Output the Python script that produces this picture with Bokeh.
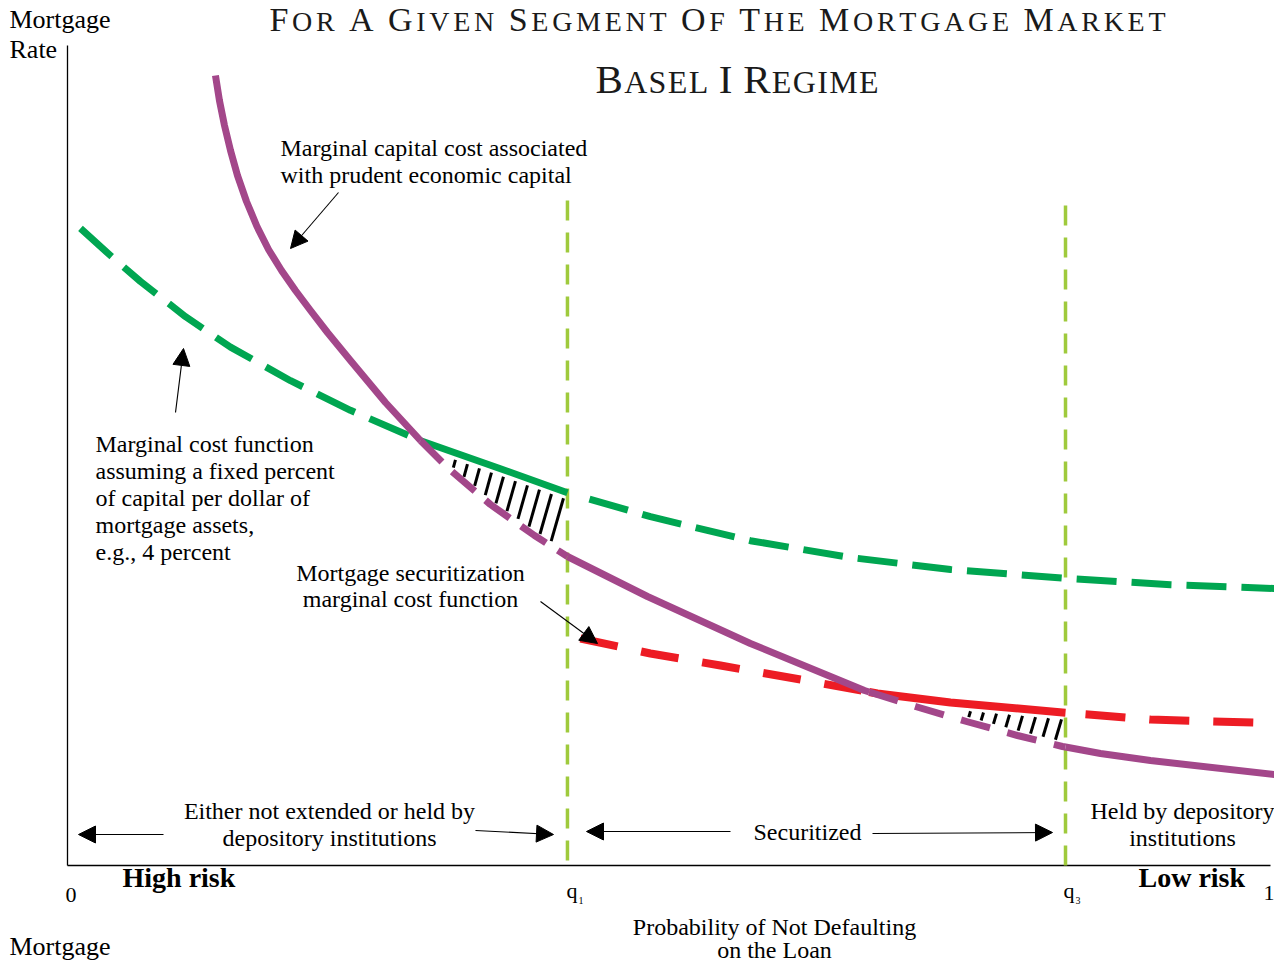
import numpy as np
from bokeh.plotting import figure
from bokeh.models import ColumnDataSource, Range1d, Arrow, NormalHead
from bokeh.core.properties import value
from bokeh.embed import file_html
from bokeh.resources import INLINE

# ---------------- data (probability of not defaulting, mortgage rate) ----------------
q1 = 0.4156
q3 = 0.8296

fixed_cap_x = [0.0108, 0.0357, 0.0607, 0.0981, 0.1355, 0.1854, 0.2352, 0.2934, 0.3599,
               0.4156, 0.4846, 0.5677, 0.6509, 0.7340, 0.8296, 0.9169, 1.0083]
fixed_cap_y = [0.7963, 0.7625, 0.730, 0.686, 0.648, 0.606, 0.569, 0.531, 0.496,
               0.466, 0.436, 0.406, 0.385, 0.370, 0.359, 0.351, 0.346]

prudent_x = [0.1230, 0.1263, 0.1305, 0.1355, 0.1413, 0.1488, 0.1575, 0.1671, 0.1779,
             0.1895, 0.2020, 0.2161, 0.2352, 0.2643, 0.2934, 0.3167, 0.3516, 0.3882,
             0.4156, 0.4821, 0.5677, 0.6625, 0.7049, 0.7473, 0.7897, 0.8271, 0.8587,
             0.9002, 1.0100]
prudent_y = [0.9875, 0.95625, 0.925, 0.89375, 0.8625, 0.83, 0.79875, 0.77, 0.74375,
             0.71875, 0.69375, 0.66625, 0.63125, 0.57875, 0.53125, 0.49625, 0.45125,
             0.4125, 0.38625, 0.33625, 0.2775, 0.21875, 0.19875, 0.18, 0.1625, 0.14875,
             0.14, 0.13125, 0.1125]

securit_x = [0.4264, 0.4846, 0.5428, 0.6093, 0.6733, 0.7340, 0.8271, 0.9002, 1.0100]
securit_y = [0.28375, 0.265, 0.25, 0.2325, 0.215, 0.20375, 0.19125, 0.1825, 0.1775]

tick_labels = ["0", "1"]

# ---------------- layout helpers ----------------
W, H = 1274, 963
X_LEFT, X_RIGHT = (0 - 67) / 1203, (W - 67) / 1203
Y_BOT, Y_TOP = (865 - H) / 800, 865 / 800
PX = 1 / 1203.0
PY = 1 / 800.0
K_BASE = 0.33   # renderer places alphabetic baseline about this many em lower


def tx(px):
    return (px - 67) / 1203.0


def ty(py):
    return (865 - py) / 800.0


GREEN = "#00a651"
PURPLE = "#a3478a"
RED = "#ed1c24"
LIME = "#9fca3c"
FONT = "Liberation Serif"

p = figure(width=W, height=H, x_range=Range1d(X_LEFT, X_RIGHT), y_range=Range1d(Y_BOT, Y_TOP),
           output_backend="svg", toolbar_location=None, min_border=0)
p.axis.visible = False
p.grid.visible = False
p.outline_line_color = None
p.background_fill_color = "white"
p.border_fill_color = "white"

fx, fy = np.array(fixed_cap_x), np.array(fixed_cap_y)
px_, py_ = np.array(prudent_x), np.array(prudent_y)
sx, sy = np.array(securit_x), np.array(securit_y)


def crossing(xa, ya, xb, yb, lo, hi):
    grid = np.linspace(lo, hi, 2000)
    d = np.interp(grid, xa, ya) - np.interp(grid, xb, yb)
    idx = np.where(np.sign(d[:-1]) != np.sign(d[1:]))[0]
    return grid[idx[0]] if len(idx) else None


x_gp = crossing(fx, fy, px_, py_, 0.2, 0.4)
x_rp = crossing(sx, sy, px_, py_, 0.5, 0.8)


def piece(xs, ys, a, b):
    m = (xs > a) & (xs < b)
    xa = [a] + list(xs[m]) + [b]
    ya = [np.interp(a, xs, ys)] + list(ys[m]) + [np.interp(b, xs, ys)]
    return xa, ya


def draw(xs, ys, a, b, color, width, dash):
    a = max(a, xs[0]); b = min(b, xs[-1])
    xa, ya = piece(xs, ys, a, b)
    p.line(xa, ya, line_color=color, line_width=width, line_dash=dash, line_cap="butt",
           line_join="round")


# axes
p.segment(x0=[0, 0], y0=[0, 0], x1=[1.0, 0], y1=[0, ty(45)], line_color="black", line_width=1.3)

# vertical q lines
p.segment(x0=[q1, q3], y0=[ty(860), ty(865)], x1=[q1, q3], y1=[ty(200), ty(205)],
          line_color=LIME, line_width=3.5, line_dash="20 12")


# hatching between curves
def hatch(upper_x, upper_y, a, b, step_px):
    xs0, ys0, xs1, ys1 = [], [], [], []
    for xp in np.arange(b - 4 * PX, a + 6 * PX, -step_px * PX):
        up = np.interp(xp, upper_x, upper_y) - 7 * PY
        dy = 0
        xb = xp
        lo = up
        for k in range(3):
            xb = xp - 0.3 * dy * (PX / PY)
            lo = np.interp(xb, px_, py_) + 5 * PY
            dy = up - lo
        if dy > 5 * PY:
            xs0.append(xb); ys0.append(lo); xs1.append(xp); ys1.append(up)
    p.segment(x0=xs0, y0=ys0, x1=xs1, y1=ys1, line_color="black", line_width=3)


hatch(fx, fy, x_gp, q1, 12)
hatch(sx, sy, x_rp, q3, 13)

# green: fixed capital
draw(fx, fy, fx[0], x_gp, GREEN, 7, "42 16")
draw(fx, fy, x_gp, q1, GREEN, 7, "solid")
draw(fx, fy, q1 + 22 * PX, 1.2, GREEN, 7, "40 15")

# red: securitization
draw(sx, sy, sx[0], x_rp, RED, 8, "38 24")
draw(sx, sy, x_rp, q3, RED, 8, "solid")
draw(sx, sy, q3 + 20 * PX, 1.2, RED, 8, "40 24")

# purple: prudent economic capital
draw(px_, py_, px_[0], x_gp, PURPLE, 7, "solid")
draw(px_, py_, x_gp, q1, PURPLE, 7, "30 14")
draw(px_, py_, q1, x_rp, PURPLE, 7, "solid")
draw(px_, py_, x_rp, q3, PURPLE, 7, "30 18")
draw(px_, py_, q3, 1.2, PURPLE, 7, "solid")

# ---------------- arrows ----------------
arrow_src = ColumnDataSource(dict(
    x0=[tx(338), tx(175), tx(540), tx(163), tx(475), tx(730), tx(872)],
    y0=[ty(192), ty(412), ty(601), ty(834), ty(830), ty(831), ty(833)],
    x1=[tx(290), tx(183), tx(597), tx(78), tx(553), tx(586), tx(1052)],
    y1=[ty(248), ty(348), ty(643), ty(834), ty(834), ty(831), ty(832)],
))
p.add_layout(Arrow(source=arrow_src, x_start="x0", y_start="y0", x_end="x1", y_end="y1",
                   line_color="black", line_width=1.1,
                   end=NormalHead(size=17, fill_color="black", line_color="black", line_width=1)))


# ---------------- texts ----------------
def texts(items, size, align="left", style="normal"):
    src = ColumnDataSource(dict(x=[tx(i[1]) for i in items],
                                y=[ty(i[2] - K_BASE * size) for i in items],
                                t=[i[0] for i in items]))
    p.text(x="x", y="y", text="t", source=src, text_font=value(FONT),
           text_font_size=f"{size}px", text_align=align, text_baseline="alphabetic",
           text_color="black", text_font_style=style)


texts([("Mortgage", 9, 28), ("Rate", 9, 58), ("Mortgage", 9, 955)], 26)
texts([("Marginal capital cost associated", 280, 155),
       ("with prudent economic capital", 280, 182),
       ("Marginal cost function", 95, 451),
       ("assuming a fixed percent", 95, 478),
       ("of capital per dollar of", 95, 505),
       ("mortgage assets,", 95, 532),
       ("e.g., 4 percent", 95, 559)], 24)
texts([("Mortgage securitization", 410, 580),
       ("marginal cost function", 410, 606),
       ("Either not extended or held by", 329, 818),
       ("depository institutions", 329, 845),
       ("Securitized", 807, 839),
       ("Held by depository", 1182, 818),
       ("institutions", 1182, 845),
       ("Probability of Not Defaulting", 774, 934),
       ("on the Loan", 774, 957)], 24, align="center")
texts([("High risk", 122, 886), ("Low risk", 1138, 886)], 28, style="bold")
texts([(tick_labels[0], 65, 902), (tick_labels[1], 1263, 900)], 22)
texts([("q", 566, 897), ("q", 1063, 897)], 22)
texts([("1", 578, 903), ("3", 1075, 903)], 10)

# small caps titles, laid out letter by letter with tracking
TW = {'A': 722, 'B': 667, 'E': 611, 'F': 556, 'G': 722, 'H': 722, 'I': 333, 'K': 722,
      'L': 611, 'M': 889, 'N': 722, 'O': 722, 'R': 667, 'S': 556, 'T': 611, 'V': 722}


def smallcaps(line, x_start, x_end, base, big, small):
    items = []
    for w in line.split(" "):
        for i, ch in enumerate(w):
            sz = big if i == 0 else small
            items.append((ch, sz, TW[ch] * sz / 1000.0))
        items.append((" ", small, 250 * small / 1000.0))
    items = items[:-1]
    natural = sum(it[2] for it in items)
    track = (x_end - x_start - natural) / (len(items) - 1)
    xs, ys, ts, ss = [], [], [], []
    cur = x_start
    for ch, sz, wd in items:
        if ch != " ":
            xs.append(tx(cur)); ys.append(ty(base - K_BASE * sz)); ts.append(ch)
            ss.append(f"{sz}px")
        cur += wd + track
    src = ColumnDataSource(dict(x=xs, y=ys, t=ts, s=ss))
    p.text(x="x", y="y", text="t", text_font_size="s", source=src, text_font=value(FONT),
           text_align="left", text_baseline="alphabetic", text_color="#1a1a1a")


smallcaps("FOR A GIVEN SEGMENT OF THE MORTGAGE MARKET", 269, 1165, 30, 34, 28)
smallcaps("BASEL I REGIME", 595, 878, 92, 41, 32)

open("out.html", "w").write(file_html(p, INLINE))
